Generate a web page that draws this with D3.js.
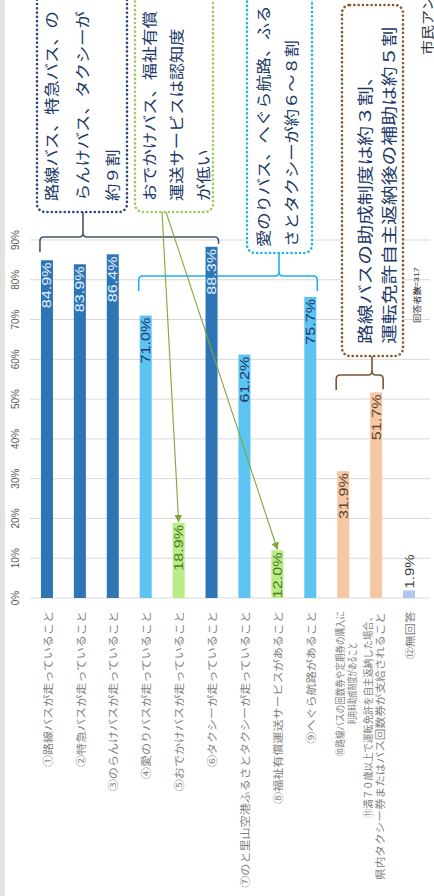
<!DOCTYPE html>
<html><head><meta charset="utf-8">
<script src="https://cdn.jsdelivr.net/npm/d3@7"></script>
<style>
html,body{margin:0;padding:0;background:#fff;overflow:hidden}
text{font-family:"Noto Sans CJK JP","Noto Sans",sans-serif}
</style></head>
<body><svg id="c" width="434" height="896"></svg>
<script>
// ---- data ----
const categories = ["①","②","③","④","⑤","⑥","⑦","⑧","⑨","⑩","⑪","⑫"];
const labelLines = [
  ["①路線バスが走っていること"],
  ["②特急バスが走っていること"],
  ["③のらんけバスが走っていること"],
  ["④愛のりバスが走っていること"],
  ["⑤おでかけバスが走っていること"],
  ["⑥タクシーが走っていること"],
  ["⑦のと里山空港ふるさとタクシーが走っていること"],
  ["⑧福祉有償運送サービスがあること"],
  ["⑨へぐら航路があること"],
  ["⑩路線バスの回数券や定期券の購入に", "利用料助成制度があること"],
  ["⑪満７０歳以上で運転免許を自主返納した場合、", "県内タクシー券またはバス回数券が支給されること"],
  ["⑫無回答"]
];
const values = [84.9, 83.9, 86.4, 71.0, 18.9, 88.3, 61.2, 12.0, 75.7, 31.9, 51.7, 1.9];
const groups = ["main","main","main","mid","low","main","mid","low","mid","aid","aid","na"];
const tickValues = [0,10,20,30,40,50,60,70,80,90];
const noteMain = ["路線バス、特急バス、の","らんけバス、タクシーが","約９割"];
const noteLow  = ["おでかけバス、福祉有償","運送サービスは認知度","が低い"];
const noteMid  = ["愛のりバス、へぐら航路、ふる","さとタクシーが約６〜８割"];
const noteAid  = ["路線バスの助成制度は約３割、","運転免許自主返納後の補助は約５割"];
const sampleText = ["回答者数", "n=317"];
const sourceText = "市民アンケート結果";

// ---- styles ----
const barColor = {main:"#2E75B6", mid:"#5CC3F3", low:"#B9EC86", aid:"#F6C7A2", na:"#AFC7EE"};
const lblColor = {main:"#E4F0FB", mid:"#1F3864", low:"#4D7A2A", aid:"#5A4636", na:"#404040"};

const svg = d3.select("#c");
svg.append("rect").attr("width",434).attr("height",896).attr("fill","#fff");
svg.append("rect").attr("x",0).attr("y",0).attr("width",5).attr("height",896).attr("fill","#E3E3E3");

const x = d3.scaleBand().domain(categories).range([30.5, 425.5]).paddingInner(0.635).paddingOuter(0.3175);
const y = d3.scaleLinear().domain([0, 90]).range([598, 240]);
const bw = x.bandwidth();
const cx = c => x(c) + bw/2;

function rtext(g, px, py, str, o) {
  o = o || {};
  const s = o.stretch || 1;
  const t = g.append("text")
    .attr("transform", `translate(${px},${py}) rotate(-90) scale(${s},1)`)
    .attr("text-anchor", o.anchor || "start")
    .attr("dominant-baseline", "central")
    .attr("font-size", o.size || 12)
    .attr("fill", o.fill || "#333")
    .text(str);
  if (o.family) t.style("font-family", o.family);
  if (o.length) t.attr("textLength", o.length).attr("lengthAdjust", "spacingAndGlyphs");
  return t;
}

// gridlines
svg.append("g").selectAll("line").data(tickValues).join("line")
  .attr("x1", 30).attr("x2", 430)
  .attr("y1", d => y(d)).attr("y2", d => y(d))
  .attr("stroke", "#D9D9D9").attr("stroke-width", 1);

// tick labels
const tg = svg.append("g");
tickValues.forEach(v => rtext(tg, 15, y(v), v + "%", {anchor:"middle", size:10, fill:"#595959", family:"'Liberation Sans', Arial, sans-serif"}));

// ---- brackets (under bars) ----
function bracket(c0, c1, hy, notchX, topY, color, leg) {
  const x0 = x(c0) - 1, x1 = x(c1) + bw + 1;
  const l0 = Math.min(leg, y(values[categories.indexOf(c0)]) - 3 - hy);
  const l1 = Math.min(leg, y(values[categories.indexOf(c1)]) - 3 - hy);
  const r = 4;
  const p = d3.path();
  p.moveTo(x0, hy + l0); p.lineTo(x0, hy + r); p.quadraticCurveTo(x0, hy, x0 + r, hy);
  p.lineTo(notchX - r, hy); p.quadraticCurveTo(notchX, hy, notchX, hy - r); p.lineTo(notchX, topY);
  p.moveTo(notchX, hy - r); p.quadraticCurveTo(notchX, hy, notchX + r, hy);
  p.lineTo(x1 - r, hy); p.quadraticCurveTo(x1, hy, x1, hy + r); p.lineTo(x1, hy + l1);
  svg.append("path").attr("d", p.toString()).attr("fill","none").attr("stroke", color).attr("stroke-width", 1.6);
}
bracket("①","⑥", 237, 83, 212, "#44546A", 15);
bracket("④","⑨", 276, 279, 253, "#1BB1EC", 15);
bracket("⑩","⑪", 375, 372, 356, "#7A5535", 15);

// ---- bars ----
svg.append("g").selectAll("rect").data(values).join("rect")
  .attr("x", (d,i) => x(categories[i]))
  .attr("y", d => y(d))
  .attr("width", bw)
  .attr("height", d => y(0) - y(d))
  .attr("fill", (d,i) => barColor[groups[i]]);

// value labels
const vg = svg.append("g");
values.forEach((v,i) => {
  const c = categories[i];
  const top = y(v);
  const txt = v.toFixed(1) + "%";
  if (v < 5) rtext(vg, cx(c), top - 2, txt, {anchor:"start", size:13, stretch:1.15, fill:lblColor[groups[i]], family:"'Liberation Sans', Arial, sans-serif"});
  else rtext(vg, cx(c), top + 2, txt, {anchor:"end", size:13.5, stretch:1.2, fill:lblColor[groups[i]], family:"'Liberation Sans', Arial, sans-serif"});
});

// category labels
const cg = svg.append("g");
const multiLen = {"⑩":[145, 82], "⑪":[206, 268]};
labelLines.forEach((lines, i) => {
  const c = categories[i];
  if (lines.length === 1) {
    rtext(cg, cx(c), 611, lines[0], {anchor:"end", size:10.5, stretch:1.15, fill:"#7F7F7F"});
  } else {
    const L = multiLen[c];
    if (c === "⑩") {
      rtext(cg, cx(c) - 4, 611, lines[0], {anchor:"end", size:10, fill:"#7F7F7F", length:L[0]});
      rtext(cg, cx(c) + 8, 611 + (L[0] - L[1]) / 2, lines[1], {anchor:"end", size:10, fill:"#7F7F7F", length:L[1]});
    } else {
      rtext(cg, cx(c) - 9, 612, lines[0], {anchor:"end", size:10, fill:"#7F7F7F", length:L[0]});
      rtext(cg, cx(c) + 3, 612, lines[1], {anchor:"end", size:10, fill:"#7F7F7F", length:L[1]});
    }
  }
});

// ---- annotation boxes ----
function noteBox(x0, y0, x1, y1, color, lines, colX, startY, size, stretch) {
  svg.append("rect").attr("x", x0).attr("y", y0).attr("width", x1 - x0).attr("height", y1 - y0)
    .attr("rx", 8).attr("fill", "#fff").attr("stroke", color).attr("stroke-width", 2.6)
    .attr("stroke-dasharray", "0.1 4.2").attr("stroke-linecap", "round");
  const g = svg.append("g");
  lines.forEach((s, i) => rtext(g, colX[i], startY, s, {anchor:"start", size:size, stretch:stretch, fill:"#203864"}));
}
noteBox(37, -12, 127, 212, "#2F4A78", noteMain, [51, 82, 112], 201, 15, 1.15);
noteBox(135, -12, 213, 212, "#9DCB5E", noteLow, [149, 176, 203], 201, 15, 1.15);
noteBox(247, -12, 312, 253, "#22B4EA", noteMid, [263, 291], 247, 15, 1.15);
noteBox(342, 5, 403, 356, "#8A5A2E", noteAid, [364, 388], 344, 15.5, 1.28);

// ---- arrows ----
const defs = svg.append("defs");
defs.append("marker").attr("id","ah").attr("viewBox","0 0 10 10").attr("refX",9).attr("refY",5)
  .attr("markerWidth",7).attr("markerHeight",7).attr("orient","auto-start-reverse")
  .append("path").attr("d","M0,0 L10,5 L0,10 z").attr("fill","#7FA83A");
[["⑤", 162], ["⑧", 166]].forEach(([c, sx]) => {
  const v = values[categories.indexOf(c)];
  svg.append("line").attr("x1", sx).attr("y1", 212).attr("x2", cx(c)).attr("y2", y(v) - 1)
    .attr("stroke", "#7FA83A").attr("stroke-width", 1.1).attr("marker-end", "url(#ah)");
});

// ---- misc text ----
rtext(svg, 416, 323, sampleText[0], {anchor:"start", size:8, stretch:1.15, fill:"#333"});
rtext(svg, 416, 292, sampleText[1], {anchor:"start", size:8, stretch:1.1, fill:"#333", family:"'Liberation Sans', Arial, sans-serif"});
rtext(svg, 426, 55, sourceText, {anchor:"start", size:13, stretch:1.15, fill:"#333"});
</script></body></html>
